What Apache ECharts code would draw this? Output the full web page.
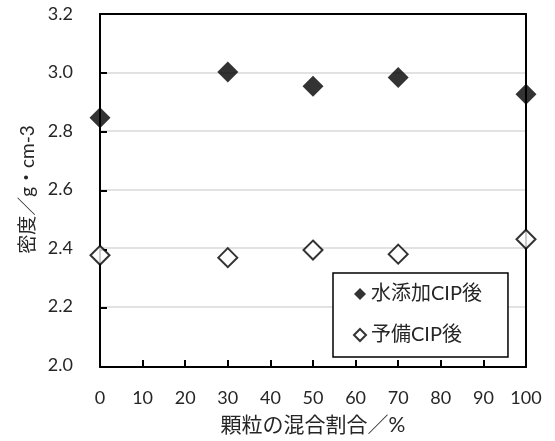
<!DOCTYPE html>
<html>
<head>
<meta charset="utf-8">
<script src="https://cdn.jsdelivr.net/npm/echarts@6/dist/echarts.min.js"></script>
<style>
  html, body { margin: 0; padding: 0; background: #fff; }
  #chart { width: 555px; height: 441px; }
</style>
</head>
<body>
<div id="chart"></div>
<script>
// Mixing ratio of granules (%)
const mixRatio = [0, 30, 50, 70, 100];
// Density after CIP with added water (g/cm3)
const densityWaterCIP = [2.845, 3.002, 2.953, 2.983, 2.926];
// Density after preliminary CIP (g/cm3)
const densityPreCIP = [2.375, 2.367, 2.393, 2.379, 2.430];

const seriesNames = ['水添加CIP後', '予備CIP後'];
const xAxisTitle = '顆粒の混合割合／%';
const yAxisTitle = '密度／g・cm-3';

const FONT = "Lato, 'Noto Sans CJK JP', sans-serif";
const TEXT = '#262626';

const PLOT = { left: 100, right: 29, top: 14, bottom: 74 };

// Black frame axes (lines + inward ticks only), drawn above the gridlines
const frameAxis = (pos, range, interval, ticks) => ({
  type: 'value', gridIndex: 1, position: pos, z: 3,
  min: range[0], max: range[1], interval: interval,
  axisLine: { show: true, onZero: false, lineStyle: { color: '#000', width: 2 } },
  axisTick: { show: ticks, inside: true, length: 7, lineStyle: { color: '#000', width: 2 } },
  axisLabel: { show: false },
  splitLine: { show: false }
});

const chart = echarts.init(document.getElementById('chart'));

chart.setOption({
  animation: false,
  grid: [Object.assign({}, PLOT), Object.assign({}, PLOT)],
  xAxis: [
    {
      type: 'value', gridIndex: 0, min: 0, max: 100, interval: 10,
      name: xAxisTitle,
      nameLocation: 'middle',
      nameGap: 50,
      nameTextStyle: { fontSize: 21, color: TEXT, fontFamily: FONT },
      axisLine: { show: false },
      axisTick: { show: false },
      axisLabel: { fontSize: 18, color: TEXT, margin: 24, fontFamily: FONT },
      splitLine: { show: false }
    },
    frameAxis('bottom', [0, 100], 10, true),
    frameAxis('top', [0, 100], 10, false)
  ],
  yAxis: [
    {
      type: 'value', gridIndex: 0, min: 2.0, max: 3.2, interval: 0.2,
      name: yAxisTitle,
      nameLocation: 'middle',
      nameGap: 56,
      nameRotate: 90,
      nameTextStyle: { fontSize: 19, color: TEXT, fontFamily: FONT },
      axisLine: { show: false },
      axisTick: { show: false },
      axisLabel: { fontSize: 18, color: TEXT, margin: 27, fontFamily: FONT, formatter: v => v.toFixed(1) },
      splitLine: {
        show: true, showMinLine: false, showMaxLine: false,
        lineStyle: { color: '#d9d9d9', width: 1.5 }
      }
    },
    frameAxis('left', [2.0, 3.2], 0.2, true),
    frameAxis('right', [2.0, 3.2], 0.2, false)
  ],
  legend: {
    orient: 'vertical',
    left: 333, top: 273,
    padding: [11, 26, 12, 20],
    itemGap: 21,
    itemWidth: 12, itemHeight: 12,
    backgroundColor: '#fff',
    borderColor: '#000',
    borderWidth: 1.5,
    borderRadius: 0,
    z: 10,
    textStyle: { fontSize: 20, color: TEXT, fontFamily: FONT },
    data: [
      { name: seriesNames[0], icon: 'diamond' },
      { name: seriesNames[1], icon: 'diamond' }
    ]
  },
  series: [
    {
      name: seriesNames[0],
      type: 'scatter',
      xAxisIndex: 0, yAxisIndex: 0,
      symbol: 'diamond',
      symbolSize: 21,
      clip: false,
      z: 5,
      itemStyle: { color: '#000' },
      data: mixRatio.map((x, i) => [x, densityWaterCIP[i]])
    },
    {
      name: seriesNames[1],
      type: 'scatter',
      xAxisIndex: 0, yAxisIndex: 0,
      symbol: 'diamond',
      symbolSize: 19,
      clip: false,
      z: 5,
      itemStyle: { color: '#fff', borderColor: '#000', borderWidth: 2 },
      data: mixRatio.map((x, i) => [x, densityPreCIP[i]])
    }
  ]
});
</script>
</body>
</html>
